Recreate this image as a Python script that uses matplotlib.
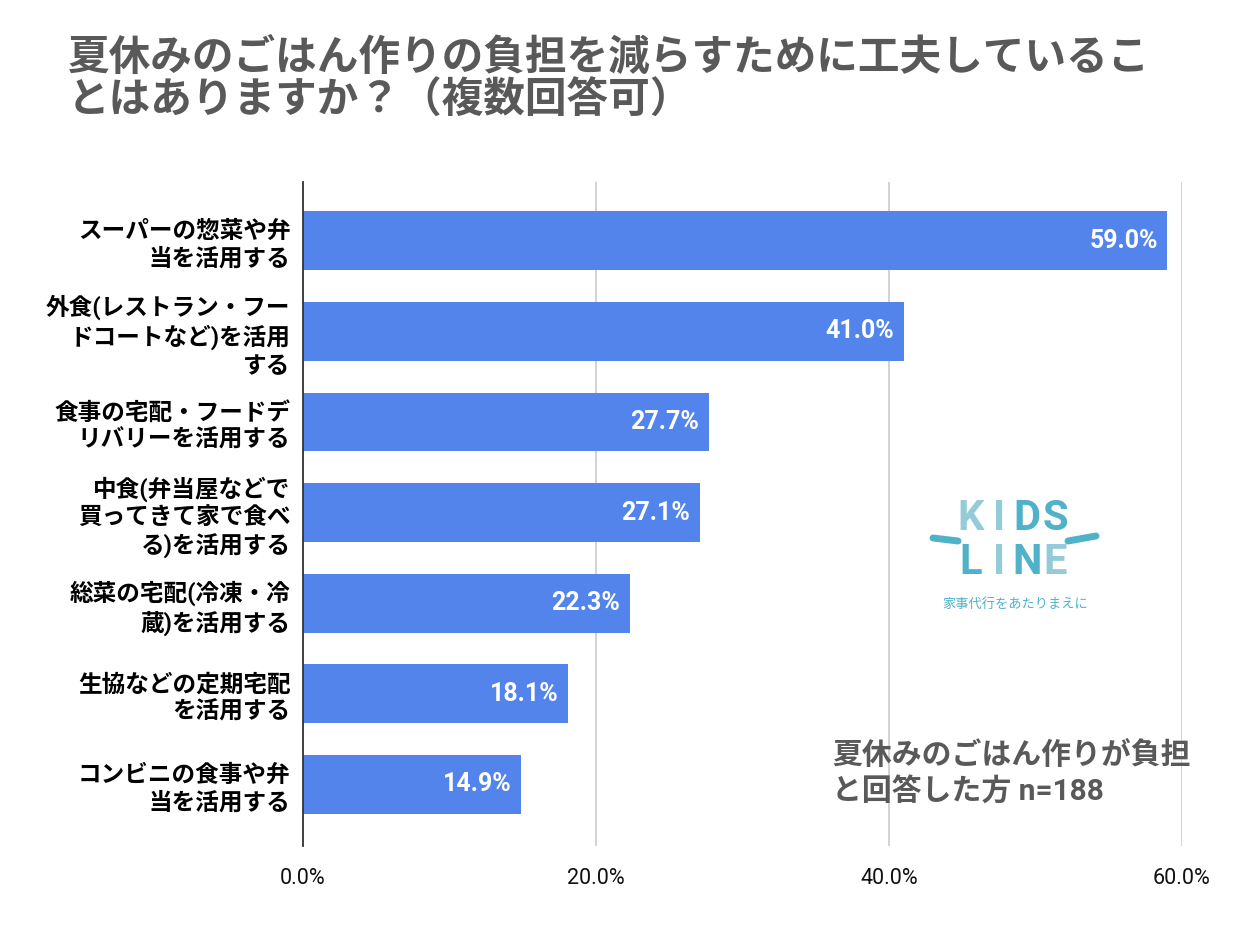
import matplotlib
matplotlib.use("Agg")
import matplotlib.pyplot as plt
import numpy as np

# data
categories = [
    "スーパーの惣菜や弁\n当を活用する",
    "外食(レストラン・フー\nドコートなど)を活用\nする",
    "食事の宅配・フードデ\nリバリーを活用する",
    "中食(弁当屋などで\n買ってきて家で食べ\nる)を活用する",
    "総菜の宅配(冷凍・冷\n蔵)を活用する",
    "生協などの定期宅配\nを活用する",
    "コンビニの食事や弁\n当を活用する",
]
values = [59.0, 41.0, 27.7, 27.1, 22.3, 18.1, 14.9]
xticks = [0, 20, 40, 60]
xtick_labels = ["0.0%", "20.0%", "40.0%", "60.0%"]

title = "夏休みのごはん作りの負担を減らすために工夫しているこ\nとはありますか？（複数回答可）"
note = "夏休みのごはん作りが負担\nと回答した方 n=188"

FONTS = ["Roboto", "Noto Sans CJK JP"]
plt.rcParams["font.family"] = FONTS

BAR = "#5384ec"
GRAY = "#595959"

fig = plt.figure(figsize=(12.42, 9.26), dpi=100)
ax = fig.add_axes([303 / 1242, 1 - 846 / 926, 879 / 1242, (846 - 182) / 926])

y = np.arange(len(values))
ax.barh(y, values, height=0.65, color=BAR, zorder=3)
ax.set_xlim(0, 60)
ax.set_ylim(6.68, -0.65)

for yi, v in zip(y, values):
    ax.text(v - 0.65, yi, f"{v:.1f}%", ha="right", va="center",
            color="white", fontsize=18, fontweight="bold", zorder=4)

ax.set_yticks(y)
ax.set_yticklabels(categories, fontsize=17, fontweight="bold",
                   linespacing=1.25, color="black")
ax.tick_params(axis="y", length=0, pad=9)

ax.set_xticks(xticks)
ax.set_xticklabels(xtick_labels, fontsize=15.5, color="#111111")
ax.tick_params(axis="x", length=0, pad=16)

ax.grid(axis="x", color="#cccccc", linewidth=1.2, zorder=0)
for s in ["top", "right", "bottom"]:
    ax.spines[s].set_visible(False)
ax.spines["left"].set_color("#333333")
ax.spines["left"].set_linewidth(1.3)
ax.spines["left"].set_zorder(5)

fig.text(68 / 1242, 1 - 38 / 926, title, fontsize=30, fontweight="bold",
         color=GRAY, ha="left", va="top", linespacing=1.05)

fig.text(832 / 1242, 1 - 774 / 926, note, fontsize=21.5, fontweight="bold",
         color=GRAY, ha="left", va="center", linespacing=1.3)

# logo approximation
light, dark = "#93cbd8", "#4fb2c9"
xs = [971, 999, 1027, 1055]
for x, ch, c in zip(xs, "KIDS", [light, light, dark, dark]):
    fig.text(x / 1242, 1 - 518 / 926, ch, fontsize=30, fontweight="bold",
             color=c, ha="center", va="center")
for x, ch, c in zip(xs, "LINE", [dark, light, dark, light]):
    fig.text(x / 1242, 1 - 562 / 926, ch, fontsize=30, fontweight="bold",
             color=c, ha="center", va="center")
fig.add_artist(plt.Line2D([933 / 1242, 958 / 1242], [1 - 538 / 926, 1 - 541 / 926],
                          color=dark, linewidth=5, solid_capstyle="round"))
fig.add_artist(plt.Line2D([1068 / 1242, 1096 / 1242], [1 - 541 / 926, 1 - 536 / 926],
                          color=dark, linewidth=5, solid_capstyle="round"))
fig.text(1015 / 1242, 1 - 604 / 926, "家事代行をあたりまえに", fontsize=9.5,
         color=dark, ha="center", va="center")

fig.savefig("out.png", dpi=100, facecolor="white")
